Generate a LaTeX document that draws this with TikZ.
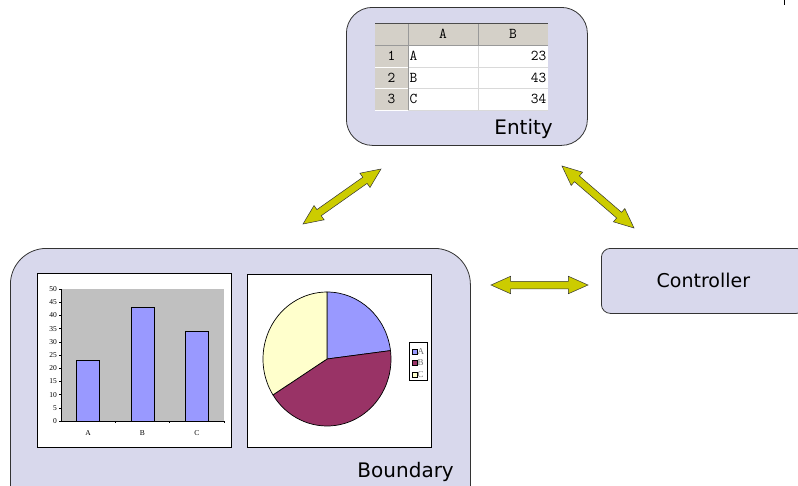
\documentclass[tikz,border=0pt]{standalone}
\usepackage{fontspec}
\setmainfont{DejaVu Sans}
\newfontfamily\chartfont{Liberation Serif}
\usepackage{xcolor}
\usetikzlibrary{shapes.arrows, calc}

\definecolor{panelfill}{HTML}{D8D8EC}
\definecolor{arrowfill}{HTML}{CCCC00}
\definecolor{headgray}{HTML}{D4D0C8}
\definecolor{plotgray}{HTML}{C0C0C0}
\definecolor{sliceA}{HTML}{9999FF}
\definecolor{sliceB}{HTML}{993366}
\definecolor{sliceC}{HTML}{FFFFCC}

\begin{document}
\begin{tikzpicture}[
    x=1pt, y=-1pt,
    panel/.style={rectangle, draw=black!80, fill=panelfill, line width=0.8pt},
    caption/.style={font=\fontsize{20}{24}\selectfont, inner sep=0pt},
    cell/.style={font=\ttfamily\fontsize{15}{17}\selectfont, inner sep=1.5pt},
    tick/.style={font=\chartfont\fontsize{7.5}{8}\selectfont, inner sep=1pt},
    fatarrow/.style={double arrow, draw=black!80, fill=arrowfill, line width=0.5pt,
        inner xsep=0pt, inner ysep=3.5pt, double arrow head extend=5pt,
        double arrow tip angle=48}
]
\useasboundingbox (0,0) rectangle (798,485);
\clip (0,0) rectangle (798,485);

% the three boxes
\node[panel, rounded corners=26pt, anchor=north west, minimum width=241, minimum height=138] (entity) at (346,7) {};
\node[panel, rounded corners=36pt, anchor=north west, minimum width=460, minimum height=280] (boundary) at (10,248) {};
\node[panel, rounded corners=9pt, anchor=north west, minimum width=204, minimum height=65,
      font=\fontsize{19}{22}\selectfont] (controller) at (601,248) {Controller};

\node[caption, anchor=base east] (entitylabel) at (553,134) {Entity};
\node[caption, anchor=base east] (boundarylabel) at (454,477) {Boundary};

% spreadsheet
\fill[white] (408,45) rectangle (548,110);
\fill[headgray] (375,23) rectangle (548,45);
\fill[headgray] (375,45) rectangle (408,110);
\foreach \y in {67,88,110}
    \draw[black!15, line width=1pt] (408,\y) -- (548,\y);
\draw[black!15, line width=1pt] (478,45) -- (478,110);
\foreach \y in {45,67,88,110}
    \draw[white, line width=1pt] (375,\y) -- (408,\y);
\draw[black!40, line width=0.6pt] (375,45) -- (548,45);
\draw[black!40, line width=0.6pt] (408,23) -- (408,110);
\draw[black!40, line width=0.6pt] (478,23) -- (478,45);
\draw[black!70, line width=0.8pt] (375,23) -- (548,23);
\node[cell] (colA) at (443,34) {A};
\node[cell] (colB) at (513,34) {B};
\foreach \n/\t/\v [count=\i] in {1/A/23, 2/B/43, 3/C/34} {
    \node[cell] (row\i) at (391.5,{45+21.7*\i-10.8}) {\n};
    \node[cell, anchor=west] (name\i) at (408,{45+21.7*\i-10.8}) {\t};
    \node[cell, anchor=east] (value\i) at (548,{45+21.7*\i-10.8}) {\v};
}

% bar chart
\draw[black, fill=white, line width=0.8pt] (37,273) rectangle (231,447);
\fill[plotgray] (61,289) rectangle (224,421);
\draw[black, line width=0.8pt] (61,289) -- (61,421) -- (224,421);
\foreach \v in {0,5,...,50} {
    \draw[black] (59,{421-2.64*\v}) -- (61,{421-2.64*\v});
    \node[tick, anchor=east] (ytick\v) at (58,{421-2.64*\v}) {\v};
}
\foreach \k in {1,2,3}
    \draw[black] ({61+54.33*\k},421) -- ({61+54.33*\k},423);
\foreach \v/\t [count=\k] in {23/A, 43/B, 34/C} {
    \draw[black, fill=sliceA, line width=0.7pt] ({61+54.33*\k-27.2-11.5},421) rectangle ({61+54.33*\k-27.2+11.5},{421-2.64*\v});
    \node[tick] (xtick\t) at ({61+54.33*\k-27.2},433) {\t};
}

% pie chart
\draw[black, fill=white, line width=0.8pt] (247,274) rectangle (431,447);
\coordinate (pie) at (327,359);
\filldraw[fill=sliceA, draw=black, line width=0.7pt] (pie) -- ++(-90:64 and 67) arc[start angle=-90, end angle=-7.2, x radius=64, y radius=67] -- cycle;
\filldraw[fill=sliceB, draw=black, line width=0.7pt] (pie) -- ++(-7.2:64 and 67) arc[start angle=-7.2, end angle=147.6, x radius=64, y radius=67] -- cycle;
\filldraw[fill=sliceC, draw=black, line width=0.7pt] (pie) -- ++(147.6:64 and 67) arc[start angle=147.6, end angle=270, x radius=64, y radius=67] -- cycle;
\draw[black, fill=white, line width=0.6pt] (409,342) rectangle (427,380);
\foreach \c/\t [count=\k] in {sliceA/A, sliceB/B, sliceC/C} {
    \draw[black, fill=\c, line width=0.4pt] (412,{337.5+11.5*\k}) rectangle (417,{342.5+11.5*\k});
    \node[tick, font=\chartfont\fontsize{9}{10}\selectfont, text=black!55, anchor=west, inner sep=0pt] (key\t) at (417.5,{340+11.5*\k}) {\t};
}

% connectors
\coordinate (ba) at (303,224);
\coordinate (eb) at (381,169);
\coordinate (ec) at (562,166);
\coordinate (ce) at (634,228);
\coordinate (bc) at (491,285);
\coordinate (cb) at (588,285);
\foreach \s/\e in {ba/eb, ec/ce, bc/cb}
    \path let \p1 = ($(\e)-(\s)$), \n1 = {atan2(\y1,\x1)}, \n2 = {veclen(\x1,\y1)} in
        node[fatarrow, minimum height=\n2, rotate=\n1] at ($(\s)!0.5!(\e)$) {};

\draw[black, line width=0.6pt] (784,0) -- (784,5);

\end{tikzpicture}
\end{document}
